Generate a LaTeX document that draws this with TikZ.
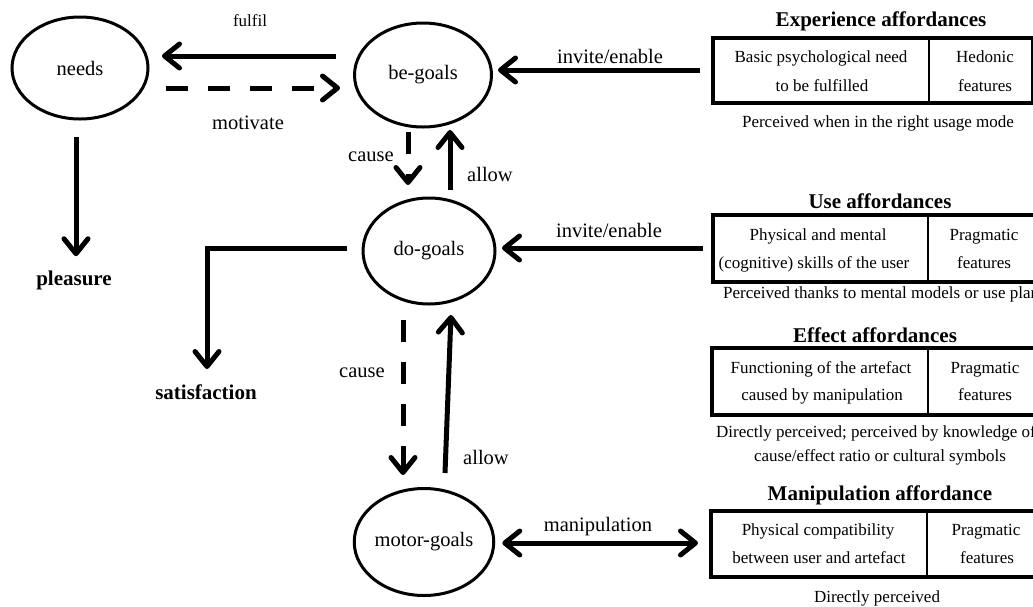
\documentclass[tikz,border=0pt]{standalone}
\usepackage{fontspec}
\setmainfont{Liberation Serif}
\usetikzlibrary{shapes.geometric,arrows.meta}
\begin{document}
\begin{tikzpicture}[x=1pt,y=-1pt,
  ell/.style={ellipse,draw,line width=3pt,inner sep=0pt,outer sep=0pt,font=\fontsize{20.5}{24}\selectfont},
  tipb/.tip={Straight Barb[length=15pt,width=24pt,round]},
  arr/.style={line width=5pt,-tipb},
  dbl/.style={line width=5pt,tipb-tipb},
  dsh/.style={arr,dash pattern=on 22pt off 20pt},
  lbl/.style={font=\fontsize{20.5}{24}\selectfont,inner sep=0pt,anchor=base},
  slbl/.style={font=\fontsize{17}{20}\selectfont,inner sep=0pt,anchor=base},
  blbl/.style={font=\fontsize{21}{24}\selectfont\bfseries,inner sep=0pt,anchor=base},
  ttl/.style={font=\fontsize{21}{24}\selectfont\bfseries,inner sep=0pt,anchor=base},
  tbox/.style={draw,line width=4pt,inner sep=0pt,outer sep=0pt,anchor=north west},
  div/.style={line width=1.3pt},
  cell/.style={font=\fontsize{17}{20}\selectfont,inner sep=0pt,anchor=base},
  captxt/.style={font=\fontsize{17}{20}\selectfont,inner sep=0pt,anchor=base},
]
\useasboundingbox (0,0) rectangle (1033,606);
\clip (0,0) rectangle (1033,606);

% ellipses
\node[ell,minimum width=136pt,minimum height=102pt] (needs) at (80,68) {needs};
\node[ell,minimum width=137pt,minimum height=104pt] (be) at (423,75) {be-goals};
\node[ell,minimum width=132pt,minimum height=106pt] (do) at (429,251) {do-goals};
\node[ell,minimum width=135pt,minimum height=107pt] (motor) at (424,542) {motor-goals};

% outcome labels
\node[blbl] (pleasure) at (74,285) {pleasure};
\node[blbl] (satisf) at (206,399) {satisfaction};

% affordance boxes
\node[tbox,minimum width=320pt,minimum height=65pt] (expbox) at (713,38) {};
\node[tbox,minimum width=340pt,minimum height=67pt] (usebox) at (713,215) {};
\node[tbox,minimum width=340pt,minimum height=67pt] (effbox) at (712,348) {};
\node[tbox,minimum width=340pt,minimum height=66pt] (manbox) at (711,511) {};

\draw[div] ([xshift=216pt]expbox.north west) -- ([xshift=216pt]expbox.south west);
\draw[div] ([xshift=215pt]usebox.north west) -- ([xshift=215pt]usebox.south west);
\draw[div] ([xshift=216pt]effbox.north west) -- ([xshift=216pt]effbox.south west);
\draw[div] ([xshift=216pt]manbox.north west) -- ([xshift=216pt]manbox.south west);

% titles
\node[ttl] (t1) at (881,26) {Experience affordances};
\node[ttl] (t2) at (880,208) {Use affordances};
\node[ttl] (t3) at (875,342) {Effect affordances};
\node[ttl] (t4) at (880,500) {Manipulation affordance};

% cells
\node[cell] (e1) at (821,62) {Basic psychological need};
\node[cell] (e2) at (822,91) {to be fulfilled};
\node[cell] (e3) at (985,62) {Hedonic};
\node[cell] (e4) at (985,91) {features};

\node[cell] (u1) at (818,240) {Physical and mental};
\node[cell] (u2) at (814,268) {(cognitive) skills of the user};
\node[cell] (u3) at (984,240) {Pragmatic};
\node[cell] (u4) at (984,268) {features};

\node[cell] (f1) at (821,373) {Functioning of the artefact};
\node[cell] (f2) at (822,400) {caused by manipulation};
\node[cell] (f3) at (985,373) {Pragmatic};
\node[cell] (f4) at (985,400) {features};

\node[cell] (m1) at (818,535) {Physical compatibility};
\node[cell] (m2) at (819,563) {between user and artefact};
\node[cell] (m3) at (986,535) {Pragmatic};
\node[cell] (m4) at (987,563) {features};

% captions
\node[captxt] (c1) at (878,127) {Perceived when in the right usage mode};
\node[captxt,anchor=base west] (c2) at (723,298) {Perceived thanks to mental models or use plan};
\node[captxt,anchor=base west] (c3) at (716,437) {Directly perceived; perceived by knowledge of};
\node[captxt] (c4) at (880,461) {cause/effect ratio or cultural symbols};
\node[captxt] (c5) at (877,602) {Directly perceived};

% connectors
\draw[arr] ([xshift=-18.5pt,yshift=19pt]be.west) -- ([xshift=14pt,yshift=12pt]needs.east);
\draw[dsh] ([xshift=18pt,yshift=-20pt]needs.east) -- ([xshift=-14.5pt,yshift=-13pt]be.west);
\draw[arr] ([xshift=-4pt,yshift=-18pt]needs.south) -- ([xshift=2pt,yshift=14pt]pleasure.north);
\draw[arr] ([xshift=-16pt,yshift=3pt]do.west) -| ([xshift=1pt,yshift=15pt]satisf.north);
\draw[arr] ([xshift=-13pt,yshift=0.5pt]expbox.west) -- ([xshift=6.5pt,yshift=5pt]be.east);
\draw[arr] ([xshift=-10pt,yshift=0.5pt]usebox.west) -- ([xshift=7pt,yshift=3pt]do.east);
\draw[dsh] ([xshift=-15pt,yshift=-5pt]be.south) -- ([xshift=-21pt,yshift=13pt]do.north);
\draw[arr] ([xshift=21pt,yshift=8pt]do.north) -- ([xshift=27pt,yshift=-3pt]be.south);
\draw[dsh] ([xshift=-26pt,yshift=-16pt]do.south) -- ([xshift=-21pt,yshift=13.5pt]motor.north);
\draw[arr] ([xshift=21pt,yshift=15.5pt]motor.north) -- ([xshift=22pt,yshift=-11pt]do.south);
\draw[dbl] ([xshift=8.5pt,yshift=-1pt]motor.east) -- ([xshift=-13pt,yshift=1pt]manbox.west);

% connector labels
\node[slbl] (l1) at (250,26) {fulfil};
\node[lbl] (l2) at (248,129) {motivate};
\node[lbl] (l3) at (610,63) {invite/enable};
\node[lbl] (l4) at (609,237) {invite/enable};
\node[lbl] (l5) at (371,161) {cause};
\node[lbl] (l6) at (490,181) {allow};
\node[lbl] (l7) at (362,377) {cause};
\node[lbl] (l8) at (486,464) {allow};
\node[lbl] (l9) at (598,531) {manipulation};
\end{tikzpicture}
\end{document}
